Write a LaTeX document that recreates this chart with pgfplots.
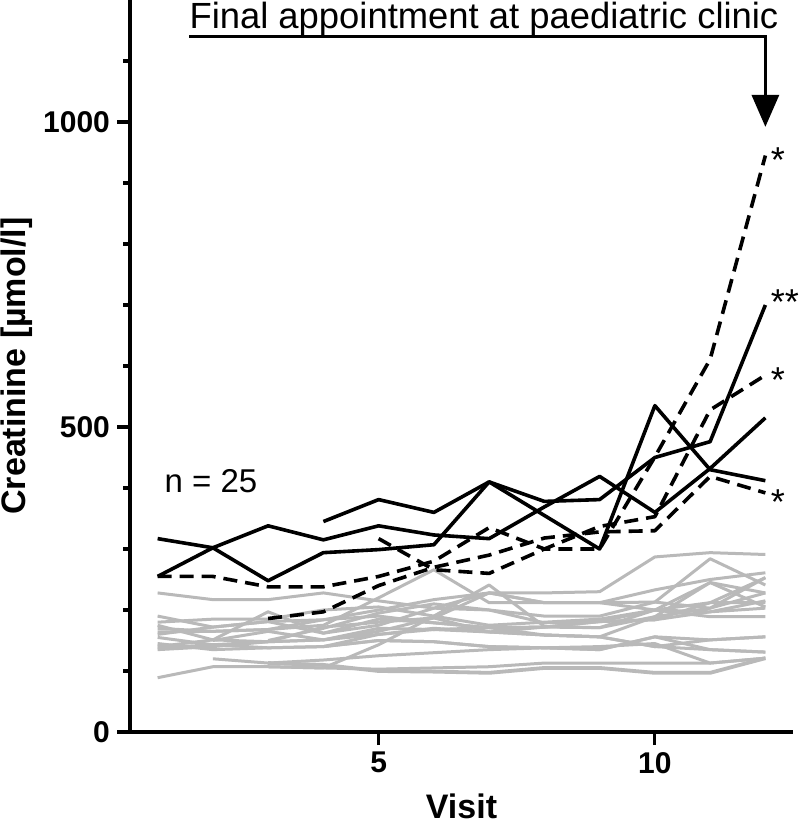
\documentclass[border=0pt]{standalone}
\usepackage{fontspec}
\setmainfont{Liberation Sans}
\usepackage{pgfplots}
\pgfplotsset{compat=1.18}
\usetikzlibrary{arrows.meta}
\definecolor{lgrey}{RGB}{185,185,185}
\begin{document}
\begin{tikzpicture}
\path[use as bounding box] (-65pt,-48.5pt) rectangle (335pt,366pt);
\begin{axis}[
  at={(0,0)}, anchor=south west,
  scale only axis, width=331.5pt, height=366pt,
  xmin=0.5, xmax=12.5, ymin=0, ymax=1200,
  axis lines=left, axis line style={line width=1.6pt, -},
  xtick={5,10}, ytick={0,500,1000},
  minor ytick={100,200,300,400,600,700,800,900,1100},
  tick align=outside, major tick length=6.5pt, minor tick length=3.5pt,
  tick style={line width=1.6pt, black},
  ticklabel style={font=\bfseries\fontsize{15}{15}\selectfont},
  /pgf/number format/assume math mode=true,
  /pgf/number format/set thousands separator={},
  xlabel={Visit}, ylabel={Creatinine [µmol/l]},
  label style={font=\bfseries\fontsize{17}{17}\selectfont},
  xlabel style={at={(axis description cs:0.5,-0.084)}, anchor=north, inner sep=0pt},
  ylabel style={at={(axis description cs:-0.196,0.5)}, anchor=north, inner sep=0pt},
  clip=false,
  every axis plot/.append style={line join=round},
]
% grey series
\addplot[lgrey, line width=1.5pt] coordinates {(1,228)(2,217)(3,217)(4,228)(5,215)(6,203)(7,200)(8,179)(9,181)(10,200)(11,212)(12,212)};
\addplot[lgrey, line width=1.5pt] coordinates {(1,190)(2,172)(3,181)(4,184)(5,200)(6,217)(7,228)(8,228)(9,230)(10,287)(11,294)(12,291)};
\addplot[lgrey, line width=1.5pt] coordinates {(1,164)(2,165)(3,168)(4,175)(5,220)(6,266)(7,212)(8,212)(9,212)(10,213)(11,284)(12,241)};
\addplot[lgrey, line width=1.5pt] coordinates {(1,175)(2,151)(3,197)(4,162)(5,185)(6,179)(7,171)(8,172)(9,181)(10,184)(11,212)(12,253)};
\addplot[lgrey, line width=1.5pt] coordinates {(1,155)(2,143)(3,148)(4,151)(5,170)(6,168)(7,164)(8,159)(9,156)(10,189)(11,203)(12,228)};
\addplot[lgrey, line width=1.5pt] coordinates {(1,145)(2,135)(3,138)(4,140)(5,150)(6,148)(7,140)(8,138)(9,135)(10,156)(11,151)(12,156)};
\addplot[lgrey, line width=1.5pt] coordinates {(1,140)(2,151)(3,148)(4,172)(5,180)(6,187)(7,228)(8,212)(9,212)(10,233)(11,250)(12,261)};
\addplot[lgrey, line width=1.5pt] coordinates {(1,138)(2,143)(3,138)(4,140)(5,160)(6,170)(7,164)(8,159)(9,156)(10,140)(11,135)(12,131)};
\addplot[lgrey, line width=1.5pt] coordinates {(1,89)(2,107)(3,107)(4,105)(5,103)(6,105)(7,107)(8,113)(9,113)(10,113)(11,113)(12,121)};
\addplot[lgrey, line width=1.9pt] coordinates {(3,113)(4,110)(5,100)(6,99)(7,97)(8,105)(9,105)(10,97)(11,97)(12,121)};
\addplot[lgrey, line width=1.5pt] coordinates {(3,107)(4,105)(5,143)(6,190)(7,241)(8,173)(9,171)(10,200)(11,245)(12,205)};
\addplot[lgrey, line width=1.5pt] coordinates {(1,170)(2,165)(3,168)(4,184)(5,190)(6,179)(7,171)(8,172)(9,181)(10,184)(11,197)(12,203)};
\addplot[lgrey, line width=1.5pt] coordinates {(1,160)(2,172)(3,181)(4,162)(5,175)(6,203)(7,228)(8,212)(9,212)(10,200)(11,189)(12,189)};
\addplot[lgrey, line width=1.5pt] coordinates {(2,150)(3,165)(4,151)(5,165)(6,187)(7,164)(8,172)(9,171)(10,189)(11,245)(12,228)};
\addplot[lgrey, line width=1.5pt] coordinates {(1,135)(2,140)(3,148)(4,151)(5,160)(6,168)(7,171)(8,159)(9,156)(10,140)(11,151)(12,156)};
\addplot[lgrey, line width=1.5pt] coordinates {(4,140)(5,150)(6,148)(7,140)(8,138)(9,135)(10,156)(11,135)(12,131)};
\addplot[lgrey, line width=1.5pt] coordinates {(2,120)(3,113)(4,118)(5,125)(6,130)(7,135)(8,138)(9,140)(10,145)(11,113)(12,121)};
\addplot[lgrey, line width=1.5pt] coordinates {(3,150)(4,170)(5,195)(6,210)(7,200)(8,190)(9,190)(10,213)(11,203)(12,253)};
\addplot[lgrey, line width=1.5pt] coordinates {(1,180)(2,185)(3,185)(4,200)(5,205)(6,190)(7,175)(8,180)(9,185)(10,200)(11,197)(12,215)};
% black solid series
\addplot[black, line width=1.8pt] coordinates {(1,317)(2,302)(3,248)(4,294)(5,299)(6,307)(7,410)(8,355)(9,300)(10,535)(11,430)(12,412)};
\addplot[black, line width=1.8pt] coordinates {(1,255)(2,302)(3,338)(4,315)(5,338)(6,323)(7,317)(8,369)(9,419)(10,360)(11,432)(12,515)};
\addplot[black, line width=1.8pt] coordinates {(4,345)(5,381)(6,360)(7,410)(8,378)(9,381)(10,450)(11,476)(12,700)};
% black dashed series
\addplot[black, line width=1.8pt, dash pattern=on 7pt off 4pt] coordinates {(1,255)(2,255)(3,238)(4,238)(5,255)(6,280)(7,335)(8,300)(9,300)(10,451)(11,611)(12,945)};
\addplot[black, line width=1.8pt, dash pattern=on 7pt off 4pt] coordinates {(3,186)(4,197)(5,240)(6,270)(7,290)(8,318)(9,328)(10,330)(11,419)(12,392)};
\addplot[black, line width=1.8pt, dash pattern=on 7pt off 4pt] coordinates {(5,317)(6,266)(7,260)(8,300)(9,337)(10,353)(11,528)(12,585)};
% annotations
\node[anchor=base west, inner sep=0pt, font=\fontsize{18.2}{18.2}\selectfont] at (axis cs:1.57,1153) {Final appointment at paediatric clinic};
\draw[line width=1.6pt, -{Triangle[length=16pt,width=13.5pt]}] (axis cs:1.57,1140) -- (axis cs:12,1140) -- (axis cs:12,992);
\node[anchor=base west, inner sep=0pt, font=\fontsize{16.5}{16.5}\selectfont] at (axis cs:1.12,393) {n = 25};
\node[anchor=base west, inner sep=0pt, font=\fontsize{18}{18}\selectfont] at (axis cs:12.09,918) {*};
\node[anchor=base west, inner sep=0pt, font=\fontsize{18}{18}\selectfont] at (axis cs:12.09,684) {**};
\node[anchor=base west, inner sep=0pt, font=\fontsize{18}{18}\selectfont] at (axis cs:12.09,556) {*};
\node[anchor=base west, inner sep=0pt, font=\fontsize{18}{18}\selectfont] at (axis cs:12.09,356) {*};
\end{axis}
\end{tikzpicture}
\end{document}
